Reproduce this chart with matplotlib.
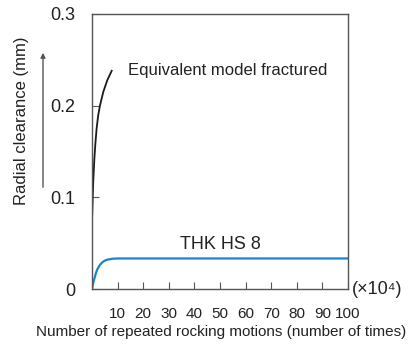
import matplotlib.pyplot as plt

plt.rcParams['font.family'] = ['Liberation Sans', 'DejaVu Sans']

# data (x in units of 10^4 cycles, radial clearance in mm)
fractured_x = [0.1, 0.3, 0.5, 0.9, 1.3, 1.8, 2.4, 3.1, 4.4, 6.0, 7.7]
fractured_y = [0.082, 0.102, 0.118, 0.141, 0.158, 0.175, 0.189, 0.200, 0.215, 0.228, 0.238]

hs8_x = [0, 0.5, 1, 1.5, 2, 3, 4, 5, 6, 8, 10, 20, 50, 100]
hs8_y = [0, 0.007, 0.012, 0.017, 0.021, 0.026, 0.029, 0.031, 0.032, 0.033, 0.0333, 0.0333, 0.0333, 0.0333]

x_ticks = [10, 20, 30, 40, 50, 60, 70, 80, 90, 100]
y_ticks = [0, 0.1, 0.2, 0.3]
y_labels = ['0', '0.1', '0.2', '0.3']

fig = plt.figure(figsize=(4.14, 3.49), dpi=100)
ax = fig.add_axes([92 / 414, 60 / 349, 256 / 414, 275 / 349])

ax.plot(fractured_x, fractured_y, color='#1a1a1a', lw=1.3)
ax.plot(hs8_x, hs8_y, color='#1a85c8', lw=1.6)

ax.set_xlim(0, 100)
ax.set_ylim(0, 0.3)
ax.set_xticks(x_ticks)
ax.set_yticks(y_ticks)
ax.set_yticklabels(y_labels)

for s in ax.spines.values():
    s.set_color('#555555')
    s.set_linewidth(1.0)
ax.tick_params(axis='both', direction='in', length=5, color='#555555',
               labelcolor='#222222')
ax.tick_params(axis='x', pad=13, labelsize=11)
ax.tick_params(axis='y', pad=12, labelsize=13)

ax.text(14, 0.238, 'Equivalent model fractured', fontsize=12,
        color='#222222', va='center', ha='left')
ax.text(50, 0.049, 'THK HS 8', fontsize=13, color='#222222',
        va='center', ha='center')

fig.text(352 / 414, 1 - 289 / 349, '(×10⁴)', fontsize=13,
         color='#222222', va='center', ha='left')
fig.text(221 / 414, 1 - 332 / 349,
         'Number of repeated rocking motions (number of times)',
         fontsize=11, color='#222222', va='center', ha='center')
fig.text(22 / 414, 1 - 121 / 349, 'Radial clearance (mm)', fontsize=12,
         color='#222222', va='center', ha='center', rotation=90)

# arrow beside y label
ax.annotate('', xy=(43 / 414, 1 - 50 / 349), xytext=(43 / 414, 1 - 190 / 349),
            xycoords='figure fraction', textcoords='figure fraction',
            arrowprops=dict(arrowstyle='-|>', color='#555555', lw=1.0,
                            mutation_scale=7))

fig.savefig('out.png', dpi=100)
